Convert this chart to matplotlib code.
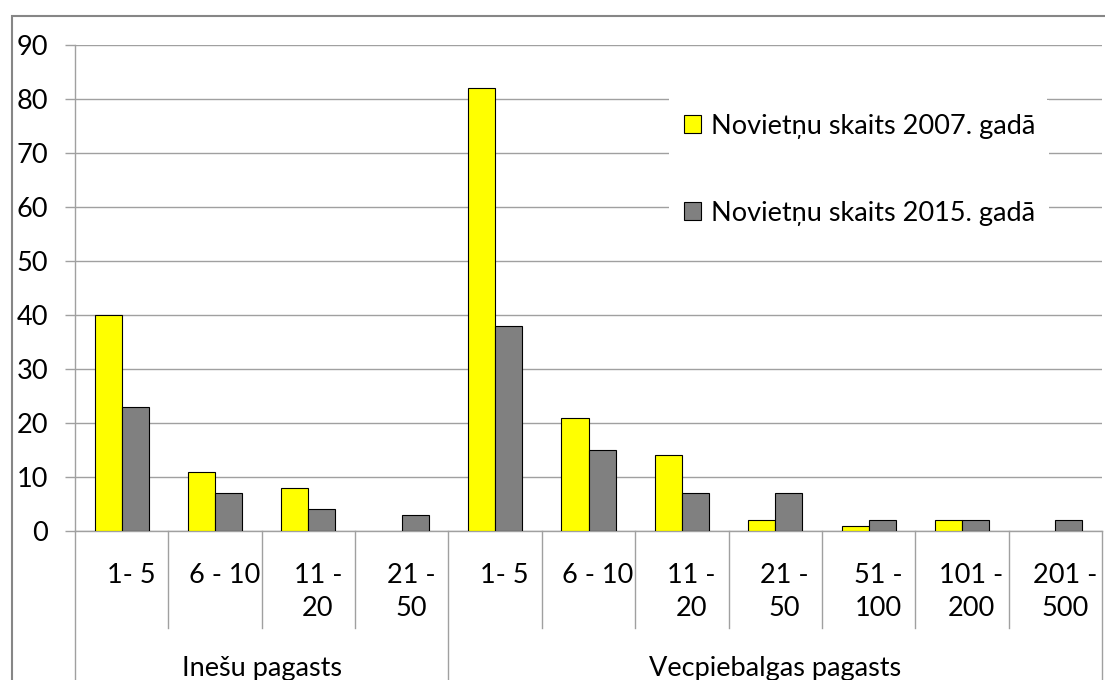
import numpy as np
import matplotlib.pyplot as plt
from matplotlib.patches import Rectangle, Patch
import matplotlib.transforms as mtransforms

# --- dati ---
groups = ["Inešu pagasts", "Vecpiebalgas pagasts"]
group_sizes = [4, 7]
labels = ["1- 5", "6 - 10", "11 -\n20", "21 -\n50",
          "1- 5", "6 - 10", "11 -\n20", "21 -\n50", "51 -\n100", "101 -\n200", "201 -\n500"]
val_2007 = [40, 11, 8, 0, 82, 21, 14, 2, 1, 2, 0]
val_2015 = [23, 7, 4, 3, 38, 15, 7, 7, 2, 2, 2]
series_names = ["Novietņu skaits 2007. gadā", "Novietņu skaits 2015. gadā"]

plt.rcParams['font.family'] = ['Lato', 'DejaVu Sans']
FS = 19.5
GRID = '#a0a0a0'

W, H = 1105, 680
fig = plt.figure(figsize=(W / 100, H / 100), dpi=100)
ax = fig.add_axes([75 / W, 149 / H, (1102 - 75) / W, 486 / H])

x = np.arange(len(labels))
bw = 0.29
lw1 = [0.8 if v > 0 else 0 for v in val_2007]
lw2 = [0.8 if v > 0 else 0 for v in val_2015]
ax.bar(x - bw / 2, val_2007, bw, color='#ffff00', edgecolor='black', linewidth=lw1, zorder=3)
ax.bar(x + bw / 2, val_2015, bw, color='#808080', edgecolor='black', linewidth=lw2, zorder=3)

ax.set_xlim(-0.5, len(labels) - 0.5)
ax.set_ylim(0, 90)
ax.set_yticks(range(0, 91, 10))
ax.set_xticks([])
ax.yaxis.grid(True, color=GRID, linewidth=1.0)
ax.set_axisbelow(True)
for s in ['top', 'right']:
    ax.spines[s].set_visible(False)
for s in ['left', 'bottom']:
    ax.spines[s].set_color(GRID)
    ax.spines[s].set_linewidth(1.0)
ax.tick_params(axis='y', length=7.2, width=1.0, color=GRID, labelsize=FS, pad=12)

# kategoriju ass (divlīmeņu)
trans = mtransforms.blended_transform_factory(ax.transData, ax.transAxes)
short = -97 / 486
bounds = np.cumsum([0] + group_sizes) - 0.5
for xi in np.arange(-0.5, len(labels)):
    y1 = -0.4 if xi in bounds else short
    ax.plot([xi, xi], [0, y1], color=GRID, lw=1.0, transform=trans, clip_on=False)

for xi, lab in zip(x, labels):
    ax.text(xi + 0.1, -32 / 486, lab, transform=trans, ha='center', va='top',
            fontsize=FS, linespacing=1.4)

for i, g in enumerate(groups):
    cx = (bounds[i] + bounds[i + 1]) / 2
    ax.text(cx, -125 / 486, g, transform=trans, ha='center', va='top', fontsize=FS)

# leģendas fons (pārtrauc režģa līnijas)
ax.add_patch(Rectangle((669 / W, 1 - 248 / H), (1047 - 669) / W, (248 - 86) / H,
                       transform=fig.transFigure, facecolor='white', edgecolor='none',
                       zorder=1))

handles = [Patch(facecolor='#ffff00', edgecolor='black', linewidth=0.8),
           Patch(facecolor='#808080', edgecolor='black', linewidth=0.8)]
leg = fig.legend(handles, series_names, loc='upper left',
                 bbox_to_anchor=(670 / W, 1 - 100 / H), borderaxespad=0,
                 fontsize=FS, handlelength=0.65, handleheight=0.65,
                 handletextpad=0.35, labelspacing=2.3, borderpad=0.5,
                 frameon=True, fancybox=False)
leg.get_frame().set_facecolor('white')
leg.get_frame().set_edgecolor('none')
leg.get_frame().set_alpha(1)

# ārējais rāmis
fig.patches.append(Rectangle((12 / W, -0.1), 1.0, (H - 16) / H + 0.1, transform=fig.transFigure,
                             fill=False, edgecolor='#868686', linewidth=1.5))

fig.savefig('out.png', dpi=100)
